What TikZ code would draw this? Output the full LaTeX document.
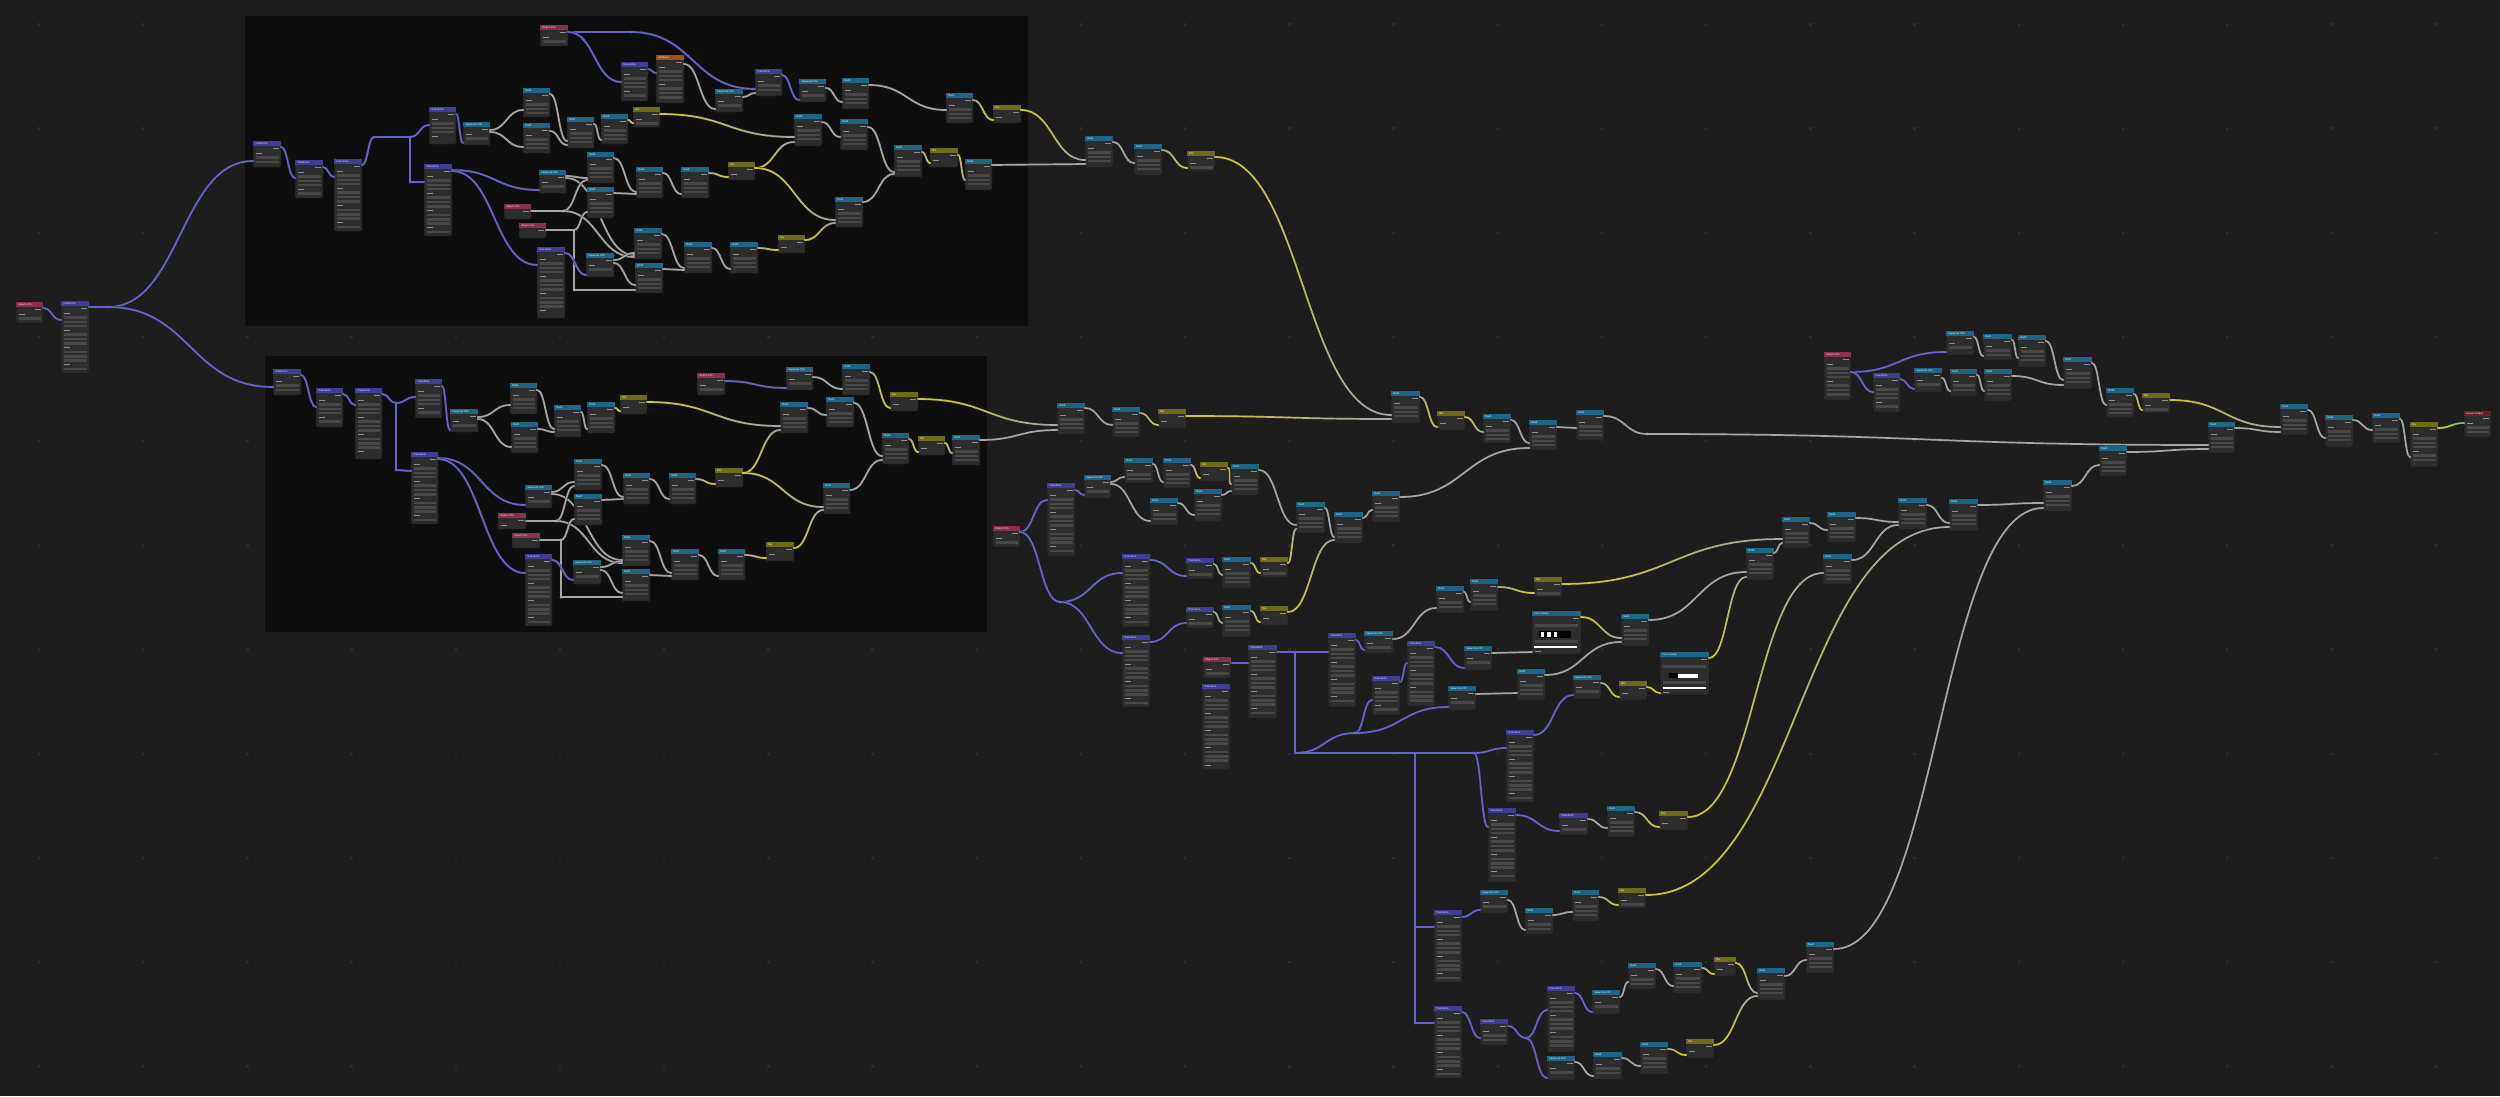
\documentclass[tikz,border=0pt]{standalone}
\usepackage{fontspec}
\setmainfont{DejaVu Sans}
\usetikzlibrary{calc}
\pgfdeclarelayer{bgl}
\pgfdeclarelayer{links}
\pgfdeclarelayer{sock}
\pgfsetlayers{bgl,links,main,sock}
\definecolor{bgc}{HTML}{1D1D1D}
\definecolor{framec}{HTML}{0E0E0E}
\definecolor{nodec}{HTML}{2D2D2D}
\definecolor{bigdotc}{HTML}{2B2B2B}
\definecolor{hdtl}{HTML}{1F6585}
\definecolor{hdsx}{HTML}{1F6585}
\definecolor{hdcr}{HTML}{1F6585}
\definecolor{hdpu}{HTML}{3F3D96}
\definecolor{hdol}{HTML}{6E6C1C}
\definecolor{hdpk}{HTML}{8A2F4C}
\definecolor{hdor}{HTML}{A5501A}
\definecolor{hdrd}{HTML}{6B1E2C}
\definecolor{wpu}{HTML}{6662D0}
\definecolor{wgr}{HTML}{A6A6A6}
\definecolor{wye}{HTML}{CFCB2A}
\definecolor{wgn}{HTML}{5FD35F}
\definecolor{fieldc}{HTML}{474747}
\definecolor{labelc}{HTML}{8E8E8E}
\def\ttltl{Math}
\def\ttlsx{Separate XYZ}
\def\ttlcr{Color Ramp}
\def\ttlpu{Transform}
\def\ttlol{Mix}
\def\ttlpk{Object Info}
\def\ttlor{Attribute}
\def\ttlrd{Group Output}
\tikzset{
 nodebox/.style={draw=black!90, line width=0.5pt, fill=nodec, rounded corners=1.2pt, inner sep=0pt, outer sep=0pt, anchor=north west},
 wire/.style={line width=1.7pt, draw=#1, preaction={draw=black!85, line width=2.5pt}},
 rrs/.style={inner sep=0pt, outer sep=0pt, minimum size=0pt},
 ttl/.style={font=\fontsize{2.4}{2.8}\selectfont, text=white!88, inner sep=0pt, anchor=west},
}
\newcommand\bnode[6]{%
 \node[nodebox, minimum width=#4pt, minimum height=#5pt] (#1) at (#2,#3) {};
 \fill[hd#6] ([xshift=0.25pt,yshift=-0.25pt]#1.north west) rectangle ([xshift=-0.25pt,yshift=-4.6pt]#1.north east);
 \node[ttl] at ([xshift=2.2pt,yshift=-2.4pt]#1.north west) {\csname ttl#6\endcsname};
 \pgfmathtruncatemacro\nrow{(#5-7)/4.3}%
 \ifnum\nrow>0
 \foreach \k in {1,...,\nrow}{%
   \pgfmathsetmacro\yy{#3+3.6+4.3*\k}%
   \pgfmathtruncatemacro\mm{mod(\k,4)}%
   \ifnum\k=1 \fill[labelc] (#2+#4-8,\yy-0.5) rectangle (#2+#4-2.5,\yy+0.5);%
   \else\ifnum\mm=2 \fill[labelc] (#2+3,\yy-0.5) rectangle (#2+9,\yy+0.5);%
   \else \fill[fieldc] (#2+2.5,\yy-1.3) rectangle (#2+#4-2.5,\yy+1.3);\fi\fi
 }%
 \fi
}
\newcommand\rnode[3]{\node[rrs] (#1) at (#2,#3) {};}
\newcommand\blink[5]{%
 \begin{pgfonlayer}{links}
 \draw[wire=#1] let \p1=([yshift=-#3pt]#2.north east), \p2=([yshift=-#5pt]#4.north west), \n1={max(0.5*abs(\x2-\x1),3pt)} in (\p1) .. controls ($(\p1)+(\n1,0pt)$) and ($(\p2)-(\n1,0pt)$) .. (\p2);
 \end{pgfonlayer}
 \begin{pgfonlayer}{sock}
 \fill[#1] ([yshift=-#3pt]#2.north east) circle (1.2pt);
 \fill[#1] ([yshift=-#5pt]#4.north west) circle (1.2pt);
 \end{pgfonlayer}
}
\newcommand\bgrad[6]{%
 \path let \p1=([yshift=-#4pt]#3.north east), \p2=([yshift=-#6pt]#5.north west), \n1={max(0.5*abs(\x2-\x1),3pt)} in (\p1) coordinate (gA) ($(\p1)+(\n1,0pt)$) coordinate (gB) ($(\p2)-(\n1,0pt)$) coordinate (gC) (\p2) coordinate (gD);
 \begin{pgfonlayer}{links}
 \draw[black!85, line width=2.5pt] (gA) .. controls (gB) and (gC) .. (gD);
 \foreach \gi in {0,...,7}{%
  \pgfmathsetmacro\gta{\gi/8}\pgfmathsetmacro\gtb{(\gi+1)/8}\pgfmathtruncatemacro\gpc{(\gi+0.5)/8*100}%
  \begin{pgfscope}
  \pgfsetlinewidth{1.7pt}\pgfsetroundcap
  \pgfsetstrokecolor{#2!\gpc!#1}%
  \pgfpathcurvebetweentime{\gta}{\gtb}{\pgfpointanchor{gA}{center}}{\pgfpointanchor{gB}{center}}{\pgfpointanchor{gC}{center}}{\pgfpointanchor{gD}{center}}%
  \pgfusepath{stroke}
  \end{pgfscope}
 }
 \end{pgfonlayer}
 \begin{pgfonlayer}{sock}
 \fill[#1] (gA) circle (1.2pt);
 \fill[#2] (gD) circle (1.2pt);
 \end{pgfonlayer}
}
\newcommand\bline[3]{%
 \begin{pgfonlayer}{links}
 \draw[wire=#1] (#2.center) -- (#3.center);
 \end{pgfonlayer}
}
\newcommand\rdot[2]{\begin{pgfonlayer}{sock}\fill[#1] (#2.center) circle (1.5pt);\end{pgfonlayer}}
\begin{document}
\begin{tikzpicture}[x=1pt,y=-1pt]
\useasboundingbox (0,0) rectangle (2500,1096);
\begin{pgfonlayer}{bgl}
\fill[bgc] (0,0) rectangle (2500,1096);
\foreach \i in {0,...,23} {\foreach \j in {0,...,10} {\fill[bigdotc] (39+104.2*\i-1.2,24.4+104.2*\j-1.2) rectangle ++(2.4,2.4);}}
\fill[framec] (245,16) rectangle (1028,326);
\fill[framec] (265,356) rectangle (987,632);
\end{pgfonlayer}

% ---------- far left
\bnode{A1}{16}{302}{27}{21}{pk}
\bnode{A2}{61}{301}{28}{72}{pu}
\rnode{rA}{108}{307}

% ---------- frame 1
\bnode{f1}{253}{141}{28}{26}{pu}
\bnode{f2}{295}{160}{28}{38}{pu}
\bnode{f3}{334}{159}{28}{72}{pu}
\bnode{f5}{429}{107}{27}{37}{pu}
\bnode{f6}{424}{164}{28}{72}{pu}
\bnode{f7}{463}{122}{27}{23}{sx}
\bnode{f8}{523}{88}{27}{29}{tl}
\bnode{f9}{523}{123}{27}{30}{tl}
\bnode{f10}{567}{117}{27}{31}{tl}
\bnode{f11}{601}{114}{27}{30}{tl}
\bnode{f12}{633}{107}{27}{20}{ol}
\bnode{f13}{540}{25}{28}{21}{pk}
\bnode{f14}{621}{62}{27}{39}{pu}
\bnode{f15}{656}{55}{28}{48}{or}
\bnode{f16}{715}{89}{28}{23}{sx}
\bnode{f17}{755}{69}{27}{27}{pu}
\bnode{f18}{799}{79}{27}{23}{sx}
\bnode{f19}{842}{78}{27}{31}{tl}
\bnode{f20}{946}{93}{27}{30}{tl}
\bnode{f21}{993}{105}{28}{18}{ol}
\bnode{f22}{794}{114}{28}{32}{tl}
\bnode{f23}{840}{119}{28}{31}{tl}
\bnode{f24}{894}{145}{28}{32}{tl}
\bnode{f25}{930}{148}{28}{19}{ol}
\bnode{f26}{965}{159}{27}{31}{tl}
\bnode{f27}{539}{170}{27}{23}{sx}
\bnode{f28}{587}{152}{27}{31}{tl}
\bnode{f29}{587}{187}{27}{31}{tl}
\bnode{f30}{636}{167}{27}{31}{tl}
\bnode{f31}{681}{167}{28}{31}{tl}
\bnode{f32}{728}{162}{27}{18}{ol}
\bnode{f33}{835}{197}{28}{30}{tl}
\bnode{f34}{504}{204}{27}{15}{pk}
\bnode{f35}{519}{223}{27}{15}{pk}
\bnode{f36}{537}{247}{28}{71}{pu}
\bnode{f37}{586}{253}{28}{24}{sx}
\bnode{f38}{634}{228}{28}{31}{tl}
\bnode{f39}{635}{263}{28}{30}{tl}
\bnode{f40}{684}{242}{28}{31}{tl}
\bnode{f41}{730}{242}{28}{31}{tl}
\bnode{f42}{778}{235}{27}{18}{ol}
\rnode{rB1}{374}{137}
\rnode{rB2}{410}{137}
\rnode{rB3}{410}{182}
\rnode{rB4}{631}{32}
\rnode{rB6}{563}{211}
\rnode{rB7}{574}{230}
\rnode{rB8}{574}{290}

% ---------- frame 2
\bnode{g1}{273}{369}{28}{26}{pu}
\bnode{g2}{316}{388}{27}{39}{pu}
\bnode{g3}{355}{388}{27}{71}{pu}
\bnode{g5}{415}{379}{27}{39}{pu}
\bnode{g6}{411}{452}{27}{72}{pu}
\bnode{g7}{450}{409}{28}{23}{sx}
\bnode{g8}{510}{383}{27}{31}{tl}
\bnode{g9}{511}{422}{27}{31}{tl}
\bnode{g10}{554}{405}{27}{32}{tl}
\bnode{g11}{587}{402}{28}{31}{tl}
\bnode{g12}{620}{395}{27}{19}{ol}
\bnode{g13}{697}{373}{28}{22}{pk}
\bnode{g14}{786}{367}{27}{23}{sx}
\bnode{g15}{842}{364}{28}{31}{tl}
\bnode{g16}{890}{392}{28}{19}{ol}
\bnode{g17}{780}{402}{28}{31}{tl}
\bnode{g18}{826}{397}{28}{30}{tl}
\bnode{g19}{882}{433}{27}{31}{tl}
\bnode{g20}{918}{436}{27}{19}{ol}
\bnode{g21}{952}{435}{28}{30}{tl}
\bnode{g22}{525}{485}{27}{23}{sx}
\bnode{g23}{574}{459}{28}{31}{tl}
\bnode{g24}{574}{494}{28}{31}{tl}
\bnode{g25}{623}{473}{27}{31}{tl}
\bnode{g26}{669}{473}{27}{31}{tl}
\bnode{g27}{715}{468}{28}{19}{ol}
\bnode{g28}{823}{483}{27}{31}{tl}
\bnode{g29}{498}{513}{28}{16}{pk}
\bnode{g30}{512}{533}{28}{15}{pk}
\bnode{g31}{525}{554}{27}{72}{pu}
\bnode{g32}{573}{560}{28}{24}{sx}
\bnode{g33}{622}{535}{28}{31}{tl}
\bnode{g34}{622}{569}{28}{32}{tl}
\bnode{g35}{671}{549}{28}{31}{tl}
\bnode{g36}{718}{549}{27}{31}{tl}
\bnode{g37}{766}{542}{28}{19}{ol}
\rnode{rC1}{396}{403}
\rnode{rC2}{396}{470}
\rnode{rC3}{556}{521}
\rnode{rC4}{561}{540}
\rnode{rC5}{561}{597}

% ---------- middle top
\bnode{Ma}{1085}{136}{28}{31}{tl}
\bnode{Mb}{1134}{144}{28}{31}{tl}
\bnode{Mc}{1187}{151}{28}{20}{ol}
\bnode{Me}{1057}{403}{28}{31}{tl}
\bnode{Mf}{1112}{407}{28}{30}{tl}
\bnode{Mg}{1158}{409}{28}{19}{ol}
\bnode{Md}{1391}{391}{29}{32}{tl}
\bnode{Mh}{1437}{411}{28}{19}{ol}
\bnode{Mi}{1483}{414}{28}{29}{tl}
\bnode{Mj}{1529}{420}{28}{30}{tl}
\bnode{Mk}{1576}{410}{28}{30}{tl}
\rnode{rD}{1647}{434}

% ---------- right
\bnode{Ra}{1824}{352}{27}{48}{pk}
\bnode{Rb}{1873}{373}{27}{39}{pu}
\bnode{Rc}{1946}{331}{28}{24}{sx}
\bnode{Rd}{1983}{334}{29}{26}{tl}
\bnode{Re}{2018}{335}{28}{32}{tl}
\bnode{Rf}{1914}{368}{28}{24}{sx}
\bnode{Rg}{1950}{369}{27}{27}{tl}
\bnode{Rh}{1984}{369}{28}{32}{tl}
\bnode{Ri}{2063}{357}{29}{32}{tl}
\bnode{Rj}{2106}{388}{28}{29}{tl}
\bnode{Rk}{2142}{393}{28}{20}{ol}
\bnode{Rl}{2280}{404}{28}{31}{tl}
\bnode{Rm}{2208}{422}{27}{31}{tl}
\bnode{Rn}{2099}{446}{28}{30}{tl}
\bnode{Ro}{2325}{415}{28}{32}{tl}
\bnode{Rp}{2372}{413}{28}{30}{tl}
\bnode{Rq}{2410}{422}{28}{45}{ol}
\bnode{Rr}{2464}{411}{27}{26}{rd}

% ---------- lower middle
\bnode{La}{993}{526}{27}{21}{pk}
\rnode{rE}{1060}{602}
\bnode{Lb}{1047}{483}{28}{73}{pu}
\bnode{Lc}{1084}{475}{27}{23}{sx}
\bnode{Ld}{1124}{458}{29}{25}{tl}
\bnode{Le}{1163}{458}{28}{30}{tl}
\bnode{Lf}{1200}{462}{28}{19}{ol}
\bnode{Lg}{1231}{464}{28}{31}{tl}
\bnode{Lh}{1150}{498}{28}{27}{tl}
\bnode{Li}{1194}{489}{28}{32}{tl}
\bnode{Lj}{1296}{502}{29}{31}{tl}
\bnode{Lk}{1334}{512}{29}{31}{tl}
\bnode{Ll}{1372}{491}{28}{31}{tl}
\bnode{Lm}{1122}{554}{28}{73}{pu}
\bnode{Ln}{1186}{558}{28}{21}{pu}
\bnode{Lo}{1222}{557}{29}{31}{tl}
\bnode{Lp}{1260}{557}{28}{20}{ol}
\bnode{Lq}{1122}{635}{28}{72}{pu}
\bnode{Lr}{1186}{607}{28}{21}{pu}
\bnode{Ls}{1222}{605}{29}{32}{tl}
\bnode{Lt}{1260}{606}{28}{19}{ol}
\bnode{Lu}{1203}{657}{28}{21}{pk}
\bnode{Lv}{1202}{684}{28}{85}{pu}
\bnode{Lw}{1248}{645}{29}{73}{pu}
\bnode{Lx}{1328}{633}{28}{74}{pu}
\bnode{Ly}{1364}{631}{29}{22}{sx}
\bnode{Lz}{1372}{676}{28}{39}{pu}
\bnode{LA}{1407}{641}{28}{65}{pu}
\bnode{LB}{1464}{646}{28}{24}{sx}
\bnode{LC}{1448}{686}{28}{24}{sx}
\bnode{LD}{1436}{586}{28}{27}{tl}
\bnode{LE}{1470}{579}{28}{32}{tl}
\bnode{LF}{1534}{577}{28}{20}{ol}
\bnode{LG}{1532}{611}{49}{43}{cr}
\bnode{LH}{1517}{669}{28}{31}{tl}
\bnode{LI}{1573}{675}{28}{24}{sx}
\bnode{LJ}{1619}{681}{28}{19}{ol}
\bnode{LK}{1621}{614}{28}{32}{tl}
\bnode{LL}{1660}{652}{49}{43}{cr}
\bnode{LM}{1506}{730}{28}{72}{pu}
\bnode{LN}{1488}{808}{28}{74}{pu}
\bnode{LO}{1559}{813}{29}{22}{pu}
\bnode{LP}{1607}{806}{28}{31}{tl}
\bnode{LQ}{1659}{811}{29}{19}{ol}
\rnode{rF1}{1295}{652}
\rnode{rF2}{1295}{753}
\rnode{rF3}{1355}{733}
\rnode{rF4}{1415}{753}
\rnode{rF5}{1474}{753}
\rnode{rG1}{1415}{927}
\rnode{rG2}{1415}{976}
\rnode{rG3}{1415}{1023}
\bnode{Z8}{1746}{548}{28}{32}{tl}
\bnode{Z9}{1782}{517}{28}{31}{tl}
\bnode{Z10}{1827}{512}{29}{30}{tl}
\bnode{Z11}{1823}{554}{29}{30}{tl}
\bnode{Z12}{1898}{498}{29}{31}{tl}
\bnode{Z13}{1949}{499}{29}{32}{tl}
\bnode{Z14}{2043}{480}{29}{31}{tl}
\bnode{Q1}{1434}{910}{28}{72}{pu}
\bnode{Q2}{1480}{890}{28}{23}{sx}
\bnode{Q3}{1525}{908}{28}{26}{tl}
\bnode{Q4}{1572}{890}{27}{31}{tl}
\bnode{Q5}{1618}{888}{28}{20}{ol}
\bnode{Q6}{1434}{1006}{28}{72}{pu}
\bnode{Q7}{1480}{1019}{28}{26}{pu}
\rnode{rH}{1526}{1038}
\bnode{Q8}{1547}{986}{28}{66}{pu}
\bnode{Q9}{1547}{1056}{28}{24}{sx}
\bnode{Q10}{1592}{990}{28}{24}{sx}
\bnode{Q11}{1628}{963}{28}{26}{tl}
\bnode{Q12}{1673}{962}{29}{31}{tl}
\bnode{Q13}{1714}{957}{22}{19}{ol}
\bnode{Q14}{1593}{1052}{29}{27}{tl}
\bnode{Q15}{1640}{1042}{28}{32}{tl}
\bnode{Q16}{1686}{1039}{28}{19}{ol}
\bnode{Q17}{1757}{968}{28}{32}{tl}
\bnode{Q18}{1806}{942}{28}{31}{tl}

% colour ramp widgets
\fill[nodec] (1533,620) rectangle (1580,653);
\fill[fieldc] (1535,624) rectangle (1578,627);
\fill[black] (1538.5,630.5) rectangle (1571,637.5);
\fill[white] (1541,631.5) rectangle (1544,636.5);
\fill[white] (1547,631.5) rectangle (1551,636.5);
\fill[white] (1554,631.5) rectangle (1557,636.5);
\fill[fieldc] (1535,640) rectangle (1578,643);
\fill[white] (1534,645.7) rectangle (1577,647.5);
\fill[labelc] (1535,650.5) rectangle (1541,651.3);
\fill[nodec] (1661,661) rectangle (1708,694);
\fill[fieldc] (1663,665) rectangle (1706,668);
\fill[black] (1668.8,673) rectangle (1678,678);
\fill[white] (1678,673.5) rectangle (1698,677.5);
\fill[fieldc] (1663,681) rectangle (1706,684);
\fill[white] (1662.6,686.7) rectangle (1706,688.5);
\fill[labelc] (1663,691.5) rectangle (1669,692.3);

% ---------- links: far left
\blink{wpu}{A1}{6}{A2}{19}
\blink{wpu}{A2}{6}{rA}{0}
\blink{wpu}{rA}{0}{f1}{20}
\blink{wpu}{rA}{0}{g1}{18}
% frame 1
\blink{wpu}{f1}{6}{f2}{18}
\blink{wpu}{f2}{7}{f3}{18}
\blink{wpu}{f3}{6}{rB1}{0}
\bline{wpu}{rB1}{rB2}
\blink{wpu}{rB2}{0}{f5}{18}
\bline{wpu}{rB2}{rB3}
\blink{wpu}{rB3}{0}{f6}{18}
\blink{wpu}{f5}{7}{f7}{21}
\blink{wgr}{f7}{8}{f8}{22}
\blink{wgr}{f7}{10}{f9}{24}
\blink{wgr}{f8}{6}{f10}{24}
\blink{wgr}{f9}{8}{f10}{28}
\blink{wgr}{f10}{7}{f11}{26}
\bgrad{wgr}{wye}{f11}{6}{f12}{16}
\bgrad{wye}{wgr}{f12}{7}{f22}{23}
\blink{wpu}{f13}{7}{rB4}{0}
\blink{wpu}{rB4}{0}{f17}{20}
\blink{wpu}{f13}{7}{f14}{20}
\blink{wpu}{f14}{7}{f15}{18}
\blink{wgr}{f15}{9}{f16}{20}
\blink{wgr}{f16}{8}{f17}{24}
\blink{wpu}{f17}{6}{f18}{21}
\blink{wgr}{f18}{9}{f19}{24}
\blink{wgr}{f19}{7}{f20}{17}
\bgrad{wgr}{wye}{f20}{7}{f21}{15}
\bgrad{wye}{wgr}{f21}{5}{Ma}{24}
\blink{wgr}{f26}{6}{Ma}{28}
\blink{wgr}{f22}{8}{f23}{18}
\blink{wgr}{f23}{8}{f24}{27}
\blink{wgr}{f33}{5}{f24}{29}
\bgrad{wgr}{wye}{f24}{7}{f25}{15}
\bgrad{wye}{wgr}{f25}{7}{f26}{21}
\bgrad{wye}{wgr}{f32}{6}{f22}{28}
\bgrad{wye}{wgr}{f32}{6}{f33}{23}
\bgrad{wye}{wgr}{f42}{5}{f33}{26}
\blink{wpu}{f6}{6}{f27}{20}
\blink{wpu}{f6}{7}{f36}{18}
\blink{wgr}{f27}{6}{f28}{26}
\blink{wgr}{f27}{8}{f38}{27}
\blink{wgr}{f34}{7}{rB6}{0}
\blink{wgr}{rB6}{0}{f28}{28}
\blink{wgr}{rB6}{0}{f38}{29}
\blink{wgr}{f35}{7}{rB7}{0}
\blink{wgr}{rB7}{0}{f29}{25}
\bline{wgr}{rB7}{rB8}
\blink{wgr}{rB8}{0}{f39}{27}
\blink{wpu}{f36}{6}{f37}{22}
\blink{wgr}{f37}{7}{f38}{25}
\blink{wgr}{f37}{10}{f39}{22}
\blink{wgr}{f28}{6}{f30}{25}
\blink{wgr}{f29}{6}{f30}{27}
\blink{wgr}{f30}{6}{f31}{27}
\bgrad{wgr}{wye}{f31}{6}{f32}{15}
\blink{wgr}{f38}{6}{f40}{26}
\blink{wgr}{f39}{6}{f40}{28}
\blink{wgr}{f40}{6}{f41}{27}
\bgrad{wgr}{wye}{f41}{6}{f42}{15}
% frame 2
\blink{wpu}{g1}{6}{g2}{19}
\blink{wpu}{g2}{6}{g3}{17}
\blink{wpu}{g3}{6}{rC1}{0}
\blink{wpu}{rC1}{0}{g5}{18}
\bline{wpu}{rC1}{rC2}
\blink{wpu}{rC2}{0}{g6}{19}
\blink{wpu}{g5}{7}{g7}{21}
\blink{wgr}{g7}{8}{g8}{22}
\blink{wgr}{g7}{10}{g9}{25}
\blink{wgr}{g8}{7}{g10}{24}
\blink{wgr}{g9}{7}{g10}{27}
\blink{wgr}{g10}{7}{g11}{27}
\bgrad{wgr}{wye}{g11}{6}{g12}{16}
\bgrad{wye}{wgr}{g12}{7}{g17}{24}
\blink{wpu}{g13}{8}{g14}{21}
\blink{wgr}{g14}{10}{g15}{25}
\bgrad{wgr}{wye}{g15}{8}{g16}{16}
\bgrad{wye}{wgr}{g16}{7}{Me}{22}
\blink{wgr}{g17}{6}{g18}{18}
\blink{wgr}{g18}{6}{g19}{23}
\bgrad{wgr}{wye}{g19}{6}{g20}{16}
\bgrad{wye}{wgr}{g20}{7}{g21}{18}
\blink{wgr}{g21}{5}{Me}{27}
\bgrad{wye}{wgr}{g27}{5}{g17}{28}
\bgrad{wye}{wgr}{g27}{5}{g28}{24}
\bgrad{wye}{wgr}{g37}{6}{g28}{27}
\blink{wgr}{g28}{7}{g19}{27}
\blink{wpu}{g6}{6}{g22}{20}
\blink{wpu}{g6}{7}{g31}{19}
\blink{wgr}{g22}{7}{g23}{23}
\blink{wgr}{g22}{9}{g33}{25}
\blink{wgr}{g29}{8}{rC3}{0}
\blink{wgr}{rC3}{0}{g23}{27}
\blink{wgr}{rC3}{0}{g33}{28}
\blink{wgr}{g30}{7}{rC4}{0}
\blink{wgr}{rC4}{0}{g24}{25}
\bline{wgr}{rC4}{rC5}
\blink{wgr}{rC5}{0}{g34}{28}
\blink{wpu}{g31}{6}{g32}{20}
\blink{wgr}{g32}{7}{g33}{26}
\blink{wgr}{g32}{10}{g34}{24}
\blink{wgr}{g23}{6}{g25}{24}
\blink{wgr}{g24}{6}{g25}{26}
\blink{wgr}{g25}{6}{g26}{26}
\bgrad{wgr}{wye}{g26}{6}{g27}{16}
\blink{wgr}{g33}{6}{g35}{24}
\blink{wgr}{g34}{6}{g35}{27}
\blink{wgr}{g35}{6}{g36}{27}
\bgrad{wgr}{wye}{g36}{6}{g37}{16}
% middle
\blink{wgr}{Ma}{6}{Mb}{19}
\bgrad{wgr}{wye}{Mb}{6}{Mc}{17}
\bgrad{wye}{wgr}{Mc}{6}{Md}{24}
\blink{wgr}{Me}{5}{Mf}{18}
\bgrad{wgr}{wye}{Mf}{6}{Mg}{16}
\bgrad{wye}{wgr}{Mg}{7}{Md}{28}
\bgrad{wgr}{wye}{Md}{6}{Mh}{16}
\bgrad{wye}{wgr}{Mh}{6}{Mi}{18}
\blink{wgr}{Mi}{6}{Mj}{23}
\blink{wgr}{Ll}{6}{Mj}{28}
\blink{wgr}{Mj}{7}{Mk}{18}
\blink{wgr}{Mk}{6}{rD}{0}
\blink{wgr}{rD}{0}{Rm}{23}
% right
\blink{wpu}{Ra}{20}{Rc}{21}
\blink{wpu}{Ra}{20}{Rb}{19}
\blink{wpu}{Rb}{6}{Rf}{21}
\blink{wgr}{Rc}{6}{Rd}{22}
\blink{wgr}{Rd}{6}{Re}{23}
\blink{wgr}{Rf}{10}{Rg}{22}
\blink{wgr}{Rg}{6}{Rh}{22}
\blink{wgr}{Re}{6}{Ri}{23}
\blink{wgr}{Rh}{7}{Ri}{28}
\blink{wgr}{Ri}{6}{Rj}{17}
\bgrad{wgr}{wye}{Rj}{6}{Rk}{17}
\bgrad{wye}{wgr}{Rk}{7}{Rl}{23}
\blink{wgr}{Rn}{6}{Rm}{27}
\blink{wgr}{Rm}{6}{Rl}{28}
\blink{wgr}{Rl}{6}{Ro}{23}
\blink{wgr}{Ro}{5}{Rp}{17}
\blink{wgr}{Rp}{6}{Rq}{35}
\bgrad{wye}{wgn}{Rq}{6}{Rr}{12}
% lower
\blink{wpu}{La}{6}{Lb}{17}
\blink{wpu}{La}{6}{rE}{0}
\blink{wpu}{rE}{0}{Lm}{19}
\blink{wpu}{rE}{0}{Lq}{18}
\blink{wpu}{Lb}{7}{Lc}{20}
\blink{wgr}{Lc}{7}{Ld}{19}
\blink{wgr}{Lc}{9}{Lh}{23}
\blink{wgr}{Ld}{6}{Le}{24}
\bgrad{wgr}{wye}{Le}{7}{Lf}{16}
\bgrad{wye}{wgr}{Lf}{6}{Lg}{20}
\blink{wgr}{Lh}{5}{Li}{26}
\blink{wgr}{Li}{6}{Lg}{27}
\blink{wgr}{Lg}{6}{Lj}{23}
\bgrad{wye}{wgr}{Lp}{6}{Lj}{27}
\blink{wgr}{Lj}{6}{Lk}{25}
\bgrad{wye}{wgr}{Lt}{6}{Lk}{28}
\blink{wgr}{Lk}{6}{Ll}{19}
\blink{wpu}{Lm}{6}{Ln}{18}
\blink{wgr}{Ln}{6}{Lo}{18}
\bgrad{wgr}{wye}{Lo}{6}{Lp}{16}
\blink{wpu}{Lq}{7}{Lr}{16}
\blink{wgr}{Lr}{5}{Ls}{18}
\bgrad{wgr}{wye}{Ls}{6}{Lt}{16}
\blink{wpu}{Lu}{6}{Lw}{18}
\blink{wpu}{Lw}{7}{rF1}{0}
\blink{wpu}{rF1}{0}{Lx}{19}
\bline{wpu}{rF1}{rF2}
\blink{wpu}{rF2}{0}{rF3}{0}
\bline{wpu}{rF2}{rF4}
\bline{wpu}{rF4}{rF5}
\blink{wpu}{rF3}{0}{Lz}{24}
\blink{wpu}{Lz}{6}{LA}{22}
\blink{wpu}{rF3}{0}{LC}{21}
\blink{wpu}{Lx}{7}{Ly}{19}
\blink{wgr}{Ly}{8}{LD}{22}
\blink{wgr}{LD}{6}{LE}{23}
\bgrad{wgr}{wye}{LE}{8}{LF}{16}
\bgrad{wye}{wgr}{LF}{7}{Z9}{22}
\blink{wpu}{LA}{6}{LB}{22}
\blink{wgr}{LB}{7}{LG}{41}
\blink{wgr}{LC}{8}{LH}{24}
\blink{wgr}{LH}{6}{LK}{28}
\bgrad{wye}{wgr}{LG}{6}{LK}{24}
\blink{wgr}{LK}{6}{Z8}{24}
\bgrad{wye}{wgr}{LL}{6}{Z8}{29}
\blink{wgr}{Z8}{5}{Z9}{26}
\blink{wgr}{Z9}{6}{Z10}{18}
\blink{wgr}{Z10}{6}{Z12}{24}
\bgrad{wye}{wgr}{LQ}{6}{Z11}{19}
\blink{wgr}{Z11}{6}{Z12}{27}
\blink{wgr}{Z12}{7}{Z13}{24}
\bgrad{wye}{wgr}{Q5}{7}{Z13}{28}
\blink{wgr}{Z13}{6}{Z14}{23}
\blink{wgr}{Q18}{7}{Z14}{28}
\blink{wgr}{Z14}{6}{Rn}{19}
\blink{wpu}{LM}{5}{LI}{20}
\bgrad{wgr}{wye}{LI}{8}{LJ}{16}
\blink{wye}{LJ}{6}{LL}{41}
\blink{wpu}{rF5}{0}{LM}{18}
\blink{wpu}{rF5}{0}{LN}{19}
\blink{wpu}{LN}{7}{LO}{18}
\blink{wgr}{LO}{6}{LP}{22}
\bgrad{wgr}{wye}{LP}{6}{LQ}{16}
\bline{wpu}{rF4}{rG1}
\bline{wpu}{rG1}{rG2}
\bline{wpu}{rG2}{rG3}
\blink{wpu}{rG1}{0}{Q1}{17}
\blink{wpu}{rG3}{0}{Q6}{17}
\blink{wpu}{Q1}{7}{Q2}{20}
\blink{wgr}{Q2}{10}{Q3}{22}
\blink{wgr}{Q3}{7}{Q4}{22}
\bgrad{wgr}{wye}{Q4}{7}{Q5}{17}
\blink{wpu}{Q6}{6}{Q7}{19}
\blink{wpu}{Q7}{7}{rH}{0}
\blink{wpu}{rH}{0}{Q8}{24}
\blink{wpu}{rH}{0}{Q9}{22}
\blink{wpu}{Q8}{7}{Q10}{22}
\blink{wgr}{Q10}{7}{Q11}{19}
\blink{wgr}{Q11}{6}{Q12}{24}
\bgrad{wgr}{wye}{Q12}{6}{Q13}{17}
\bgrad{wye}{wgr}{Q13}{6}{Q17}{25}
\blink{wgr}{Q9}{6}{Q14}{24}
\blink{wgr}{Q14}{6}{Q15}{24}
\bgrad{wgr}{wye}{Q15}{7}{Q16}{16}
\bgrad{wye}{wgr}{Q16}{6}{Q17}{28}
\blink{wgr}{Q17}{8}{Q18}{18}
% reroute dots
\rdot{wpu}{rA}\rdot{wpu}{rB1}\rdot{wpu}{rB2}\rdot{wpu}{rB3}\rdot{wpu}{rB4}
\rdot{wgr}{rB6}\rdot{wgr}{rB7}\rdot{wgr}{rB8}
\rdot{wpu}{rC1}\rdot{wpu}{rC2}\rdot{wgr}{rC3}\rdot{wgr}{rC4}\rdot{wgr}{rC5}
\rdot{wgr}{rD}\rdot{wpu}{rE}
\rdot{wpu}{rF1}\rdot{wpu}{rF2}\rdot{wpu}{rF3}\rdot{wpu}{rF4}\rdot{wpu}{rF5}
\rdot{wpu}{rG1}\rdot{wpu}{rG2}\rdot{wpu}{rG3}\rdot{wpu}{rH}
\end{tikzpicture}
\end{document}
